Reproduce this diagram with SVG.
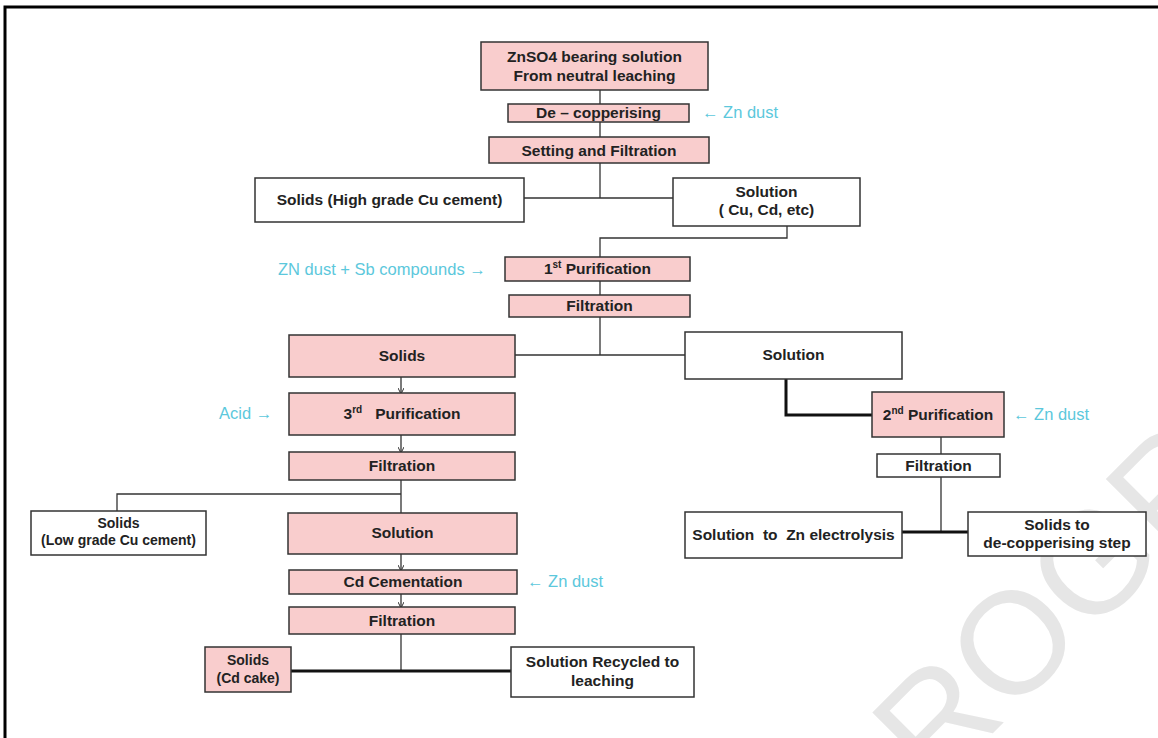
<svg xmlns="http://www.w3.org/2000/svg" width="1158" height="738" viewBox="0 0 1158 738">
<defs>
<style>
.p{fill:#f9cdcd;stroke:#333;stroke-width:1.5}
.w{fill:#fff;stroke:#333;stroke-width:1.5}
.t{font-family:"Liberation Sans",Arial,sans-serif;font-weight:bold;font-size:15.5px;fill:#222;text-anchor:middle}
.s{font-size:14px}
.c{font-family:"Liberation Sans",Arial,sans-serif;font-size:16.5px;fill:#5cc8dc}
.ln{fill:none;stroke:#333;stroke-width:1.3}
.th{fill:none;stroke:#111;stroke-width:3}
.sup{font-size:10px}
</style>
<marker id="ah" markerWidth="6" markerHeight="6" refX="5" refY="3" orient="auto" markerUnits="userSpaceOnUse">
<path d="M0,0 L6,3 L0,6" fill="none" stroke="#333" stroke-width="1"/>
</marker>
</defs>
<rect width="1158" height="738" fill="#fff"/>
<text x="0" y="0" transform="translate(866,860) rotate(-45)" font-family="Liberation Sans,Arial,sans-serif" font-size="145" fill="#e6e6e6">PROGRAM</text>
<path d="M5,740 V7 H1160" fill="none" stroke="#000" stroke-width="3"/>

<g id="connectors">
<path class="ln" d="M600,90 V104 M600,122 V137 M600,163 V198 M524,198 H673"/>
<path class="ln" d="M787,226 V238 H600 V257"/>
<path class="ln" d="M600,281 V295 M600,317 V355 M515,355 H685"/>
<path class="th" d="M786,379 V415 H872"/>
<path class="ln" d="M941,437 V454 M941,477 V532"/>
<path class="th" d="M902,532 H968"/>
<path class="ln" d="M401,377 V393" marker-end="url(#ah)"/>
<path class="ln" d="M401,435 V452" marker-end="url(#ah)"/>
<path class="ln" d="M401,480 V513 M401,494 H117 V511"/>
<path class="ln" d="M401,554 V570" marker-end="url(#ah)"/>
<path class="ln" d="M401,594 V607" marker-end="url(#ah)"/>
<path class="ln" d="M401,634 V671"/>
<path class="th" d="M291,671 H511"/>
</g>

<g id="n1"><rect class="p" x="481" y="42" width="227" height="48"/><text class="t" x="594.5" y="62">ZnSO4 bearing solution</text><text class="t" x="594.5" y="81">From neutral leaching</text></g>
<g id="n2"><rect class="p" x="508" y="104" width="181" height="18"/><text class="t" x="598.5" y="118">De – copperising</text></g>
<g id="n3"><rect class="p" x="489" y="137" width="220" height="26"/><text class="t" x="599" y="156">Setting and Filtration</text></g>
<g id="n4"><rect class="w" x="255" y="178" width="269" height="44"/><text class="t" x="389.5" y="205">Solids (High grade Cu cement)</text></g>
<g id="n5"><rect class="w" x="673" y="178" width="187" height="48"/><text class="t" x="766.5" y="197">Solution</text><text class="t" x="766.5" y="215">( Cu, Cd, etc)</text></g>
<g id="n6"><rect class="p" x="505" y="257" width="185" height="24"/><text class="t" x="597.5" y="274">1<tspan class="sup" dy="-6">st</tspan><tspan dy="6"> Purification</tspan></text></g>
<g id="n7"><rect class="p" x="509" y="295" width="181" height="22"/><text class="t" x="599.5" y="311">Filtration</text></g>
<g id="n8"><rect class="p" x="289" y="335" width="226" height="42"/><text class="t" x="402" y="361">Solids</text></g>
<g id="n9"><rect class="w" x="685" y="332" width="217" height="47"/><text class="t" x="793.5" y="360">Solution</text></g>
<g id="n10"><rect class="p" x="289" y="393" width="226" height="42"/><text class="t" x="402" y="419" style="white-space:pre">3<tspan class="sup" dy="-6">rd</tspan><tspan dy="6">   Purification</tspan></text></g>
<g id="n11"><rect class="p" x="289" y="452" width="226" height="28"/><text class="t" x="402" y="471">Filtration</text></g>
<g id="n12"><rect class="w" x="31" y="511" width="175" height="44"/><text class="t s" x="118.5" y="528">Solids</text><text class="t s" x="118.5" y="545">(Low grade Cu cement)</text></g>
<g id="n13"><rect class="p" x="288" y="513" width="229" height="41"/><text class="t" x="402.5" y="538">Solution</text></g>
<g id="n14"><rect class="p" x="289" y="570" width="228" height="24"/><text class="t" x="403" y="587">Cd Cementation</text></g>
<g id="n15"><rect class="p" x="289" y="607" width="226" height="27"/><text class="t" x="402" y="626">Filtration</text></g>
<g id="n16"><rect class="p" x="205" y="647" width="86" height="45"/><text class="t s" x="248" y="665">Solids</text><text class="t s" x="248" y="683">(Cd cake)</text></g>
<g id="n17"><rect class="w" x="511" y="647" width="183" height="50"/><text class="t" x="602.5" y="667">Solution Recycled to</text><text class="t" x="602.5" y="686">leaching</text></g>
<g id="n18"><rect class="p" x="872" y="392" width="132" height="45"/><text class="t" x="938" y="420">2<tspan class="sup" dy="-6">nd</tspan><tspan dy="6"> Purification</tspan></text></g>
<g id="n19"><rect class="w" x="877" y="454" width="123" height="23"/><text class="t" x="938.5" y="471">Filtration</text></g>
<g id="n20"><rect class="w" x="685" y="512" width="217" height="46"/><text class="t" x="793.5" y="540" style="white-space:pre">Solution  to  Zn electrolysis</text></g>
<g id="n21"><rect class="w" x="968" y="512" width="178" height="44"/><text class="t" x="1057" y="530">Solids to</text><text class="t" x="1057" y="548">de-copperising step</text></g>

<g id="labels">
<text class="c" x="702" y="118">← Zn dust</text>
<text class="c" x="278" y="275">ZN dust + Sb compounds →</text>
<text class="c" x="219" y="419">Acid →</text>
<text class="c" x="1013" y="420">← Zn dust</text>
<text class="c" x="527" y="587">← Zn dust</text>
</g>
</svg>
